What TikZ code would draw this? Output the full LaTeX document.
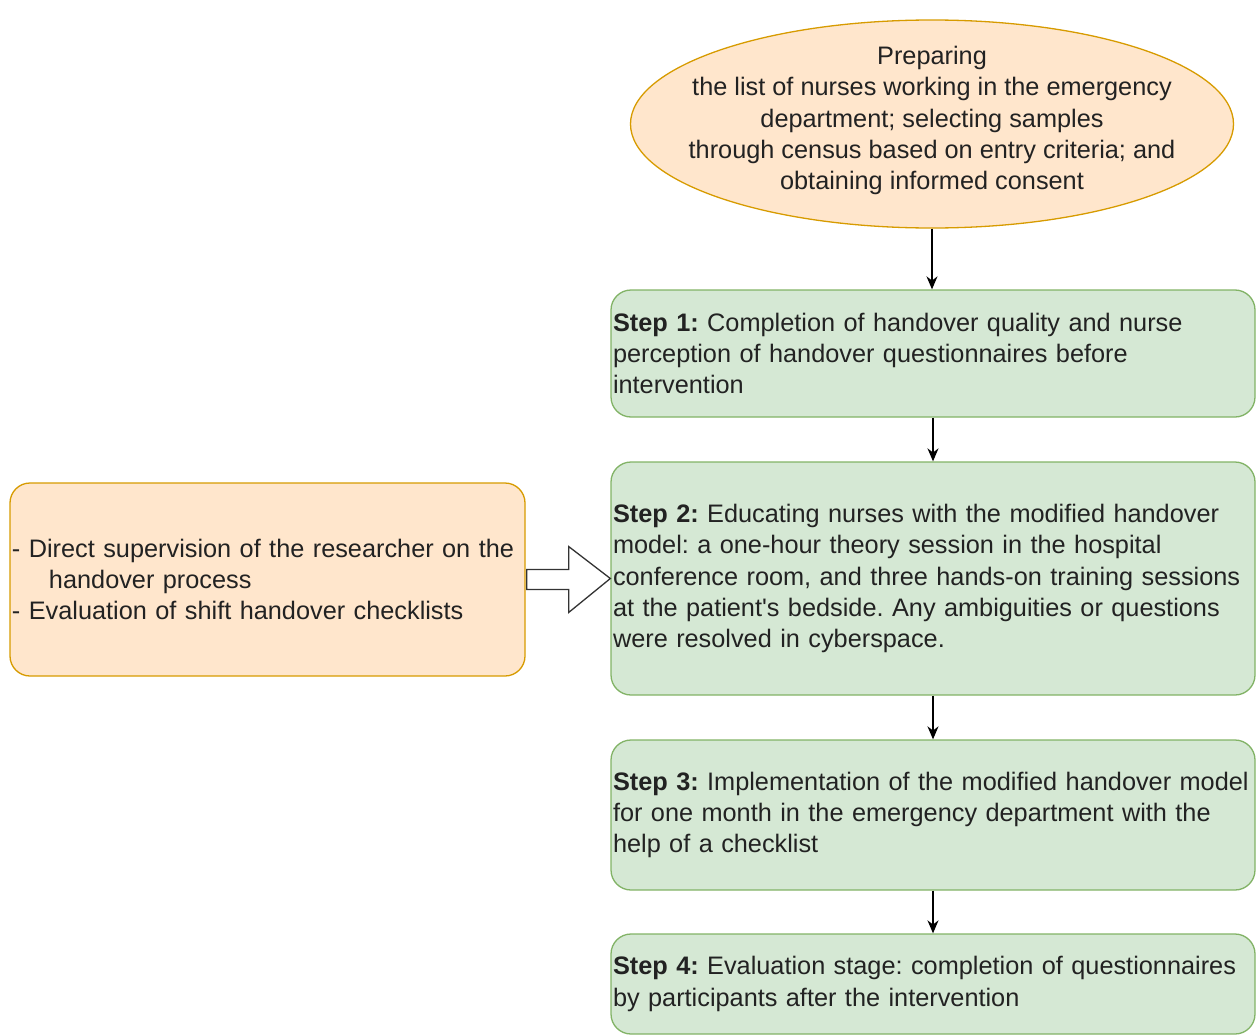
\documentclass[tikz,border=0pt]{standalone}
\usepackage{fontspec}
\setmainfont{Liberation Sans}
\usetikzlibrary{shapes.geometric,arrows.meta,calc}
\definecolor{orfill}{HTML}{FFE6CC}
\definecolor{ordraw}{HTML}{D79B00}
\definecolor{grfill}{HTML}{D5E8D4}
\definecolor{grdraw}{HTML}{82B366}
\definecolor{txtc}{HTML}{222222}
\frenchspacing
\begin{document}
\begin{tikzpicture}[x=1pt,y=-1pt,
  txt/.style={font=\fontsize{25.3}{31.3}\selectfont, text=txtc},
  stepbox/.style={txt, draw=grdraw, fill=grfill, line width=1.3pt, rounded corners=20pt,
    minimum width=644pt, text width=640pt, inner xsep=2pt, inner ysep=0pt, align=left},
  sidebox/.style={txt, draw=ordraw, fill=orfill, line width=1.3pt, rounded corners=20pt,
    minimum width=515pt, text width=511pt, inner xsep=2pt, inner ysep=0pt, align=left},
  startell/.style={txt, ellipse, draw=ordraw, fill=orfill, line width=1.3pt,
    minimum width=603pt, minimum height=208pt, inner xsep=-40pt, inner ysep=-22pt, align=center},
  conn/.style={line width=1.5pt, -{Stealth[length=13pt,width=11pt]}},
  bigarrow/.style={draw=black!80, fill=white, line width=1.3pt, line join=miter}
]
\useasboundingbox (0,0) rectangle (1259,1036);

\node[startell] (ell) at (932,124) {Preparing\\the list of nurses working in the emergency\\department; selecting samples\\through census based on entry criteria; and\\obtaining informed consent\\[-19pt]};

\node[stepbox, minimum height=127pt] (s1) at (933,353.5) {\textbf{Step 1:} Completion of handover quality and nurse\\perception of handover questionnaires before\\intervention};

\node[stepbox, minimum height=233pt] (s2) at (933,578.5) {\textbf{Step 2:} Educating nurses with the modified handover\\model: a one-hour theory session in the hospital\\conference room, and three hands-on training sessions\\at the patient\textquotesingle s bedside. Any ambiguities or questions\\were resolved in cyberspace.};

\node[stepbox, minimum height=150pt] (s3) at (933,815) {\textbf{Step 3:} Implementation of the modified handover model\\for one month in the emergency department with the\\help of a checklist};

\node[stepbox, minimum height=100pt] (s4) at (933,984) {\textbf{Step 4:} Evaluation stage: completion of questionnaires\\by participants after the intervention};

\node[sidebox, minimum height=193pt] (side) at (267.5,579.5) {- Direct supervision of the researcher on the\\\hspace*{37pt}handover process\\- Evaluation of shift handover checklists};

\draw[conn] (ell.south) -- (ell.south |- s1.north);
\draw[conn] (s1.south) -- (s2.north);
\draw[conn] (s2.south) -- (s3.north);
\draw[conn] (s3.south) -- (s4.north);

\draw[bigarrow] (side.east) ++(1,-10) -- ++(42,0) -- ++(0,-23) -- (s2.west)
  -- ($(side.east)+(43,33)$) -- ++(0,-23) -- ++(-42,0) -- cycle;
\end{tikzpicture}
\end{document}
